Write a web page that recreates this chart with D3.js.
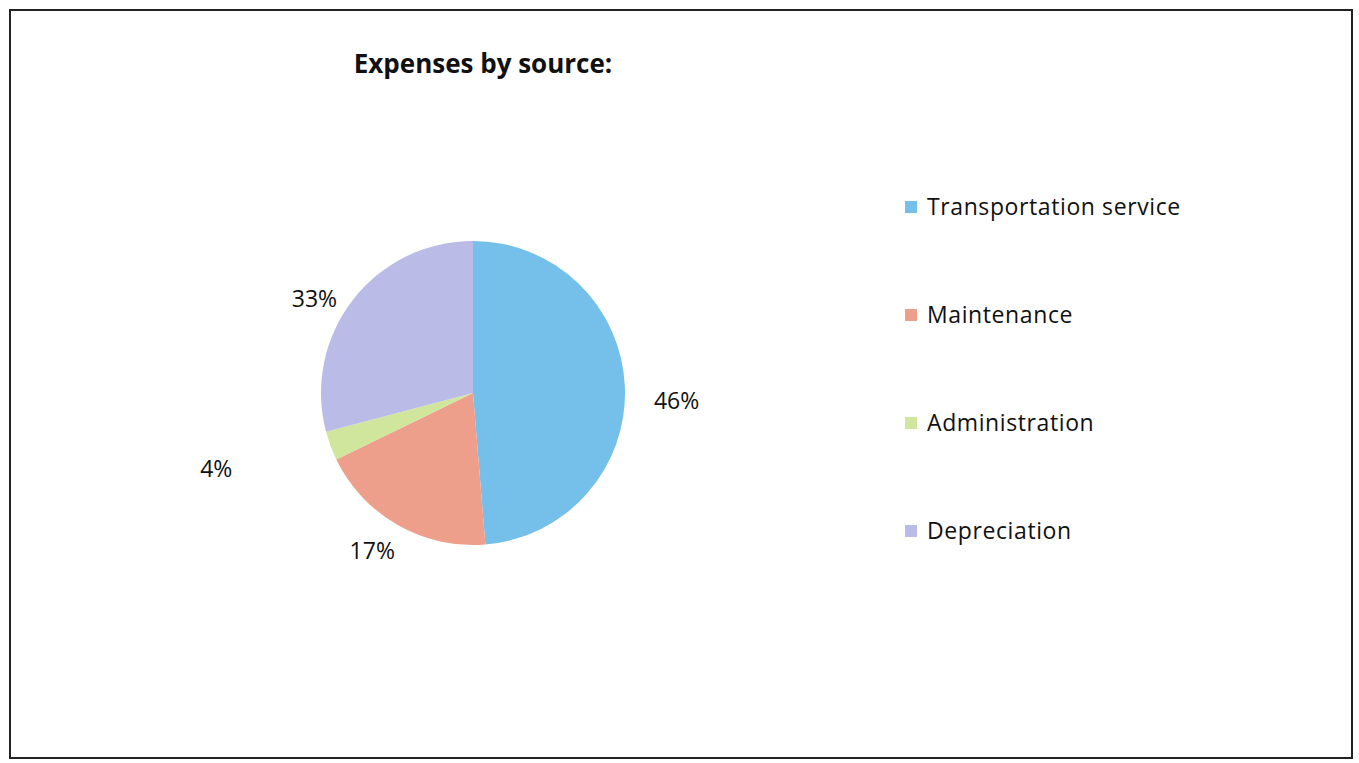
<!DOCTYPE html>
<html>
<head>
<meta charset="utf-8">
<script src="https://cdn.jsdelivr.net/npm/d3@7"></script>
<style>
	body { margin: 0; background: #fff; }
	text { font-family: "Open Sans", "Noto Sans", sans-serif; fill: #111; }
</style>
</head>
<body>
<div id="chart"></div>
<script>
// Chart data
var categories = ['Transportation service', 'Maintenance', 'Administration', 'Depreciation'];
// slice shares as drawn in the picture (the printed labels are rounded differently)
var shares = [48.7, 19.1, 3.1, 29.1];
var pctLabels = ['46%', '17%', '4%', '33%'];
var colors = ['#74c0ea', '#ee9f8b', '#d0e69c', '#babbe6'];

var title = 'Expenses by source:';

// label placement: radius as multiple of the pie radius, and angle nudge in degrees
var labelRadius = [1.34, 1.23, 1.76, 1.215];
var labelNudge = [4.5, 2.9, 4.0, -6.8];

var width = 1359, height = 763;
var cx = 473, cy = 393, radius = 152;

var svg = d3.select('#chart')
	.append('svg')
	.attr('width', width)
	.attr('height', height);

// outer frame
svg.append('rect')
	.attr('x', 10)
	.attr('y', 10)
	.attr('width', 1342)
	.attr('height', 748)
	.attr('fill', 'none')
	.attr('stroke', '#222')
	.attr('stroke-width', 2);

svg.append('text')
	.attr('x', 483)
	.attr('y', 73)
	.attr('text-anchor', 'middle')
	.style('font-size', '26px')
	.style('font-weight', 'bold')
	.text(title);

var dataset = categories.map(function(c, i) {
	return { name: c, value: shares[i], label: pctLabels[i], color: colors[i] };
});

var pie = d3.pie()
	.value(function(d) { return d.value; })
	.sort(null);

var arc = d3.arc()
	.innerRadius(0)
	.outerRadius(radius);

var g = svg.append('g')
	.attr('transform', 'translate(' + cx + ',' + cy + ')');

var arcs = pie(dataset);

g.selectAll('path')
	.data(arcs)
	.enter()
	.append('path')
	.attr('d', arc)
	.attr('fill', function(d) { return d.data.color; });

g.selectAll('text.pct')
	.data(arcs)
	.enter()
	.append('text')
	.attr('class', 'pct')
	.attr('text-anchor', 'middle')
	.attr('dy', '0.36em')
	.attr('transform', function(d, i) {
		var a = (d.startAngle + d.endAngle) / 2 + labelNudge[i] * Math.PI / 180;
		var r = radius * labelRadius[i];
		return 'translate(' + (r * Math.sin(a)) + ',' + (-r * Math.cos(a)) + ')';
	})
	.style('font-size', '23px')
	.text(function(d) { return d.data.label; });

// legend
var legendY = d3.scalePoint()
	.domain(categories)
	.range([207, 531]);

var legend = svg.append('g')
	.selectAll('g')
	.data(dataset)
	.enter()
	.append('g')
	.attr('transform', function(d) { return 'translate(905,' + legendY(d.name) + ')'; });

legend.append('rect')
	.attr('x', 0)
	.attr('y', -6)
	.attr('width', 12)
	.attr('height', 12)
	.attr('fill', function(d) { return d.color; });

legend.append('text')
	.attr('x', 22)
	.attr('dy', '0.36em')
	.style('font-size', '23px')
	.style('letter-spacing', '0.6px')
	.text(function(d) { return d.name; });
</script>
</body>
</html>
